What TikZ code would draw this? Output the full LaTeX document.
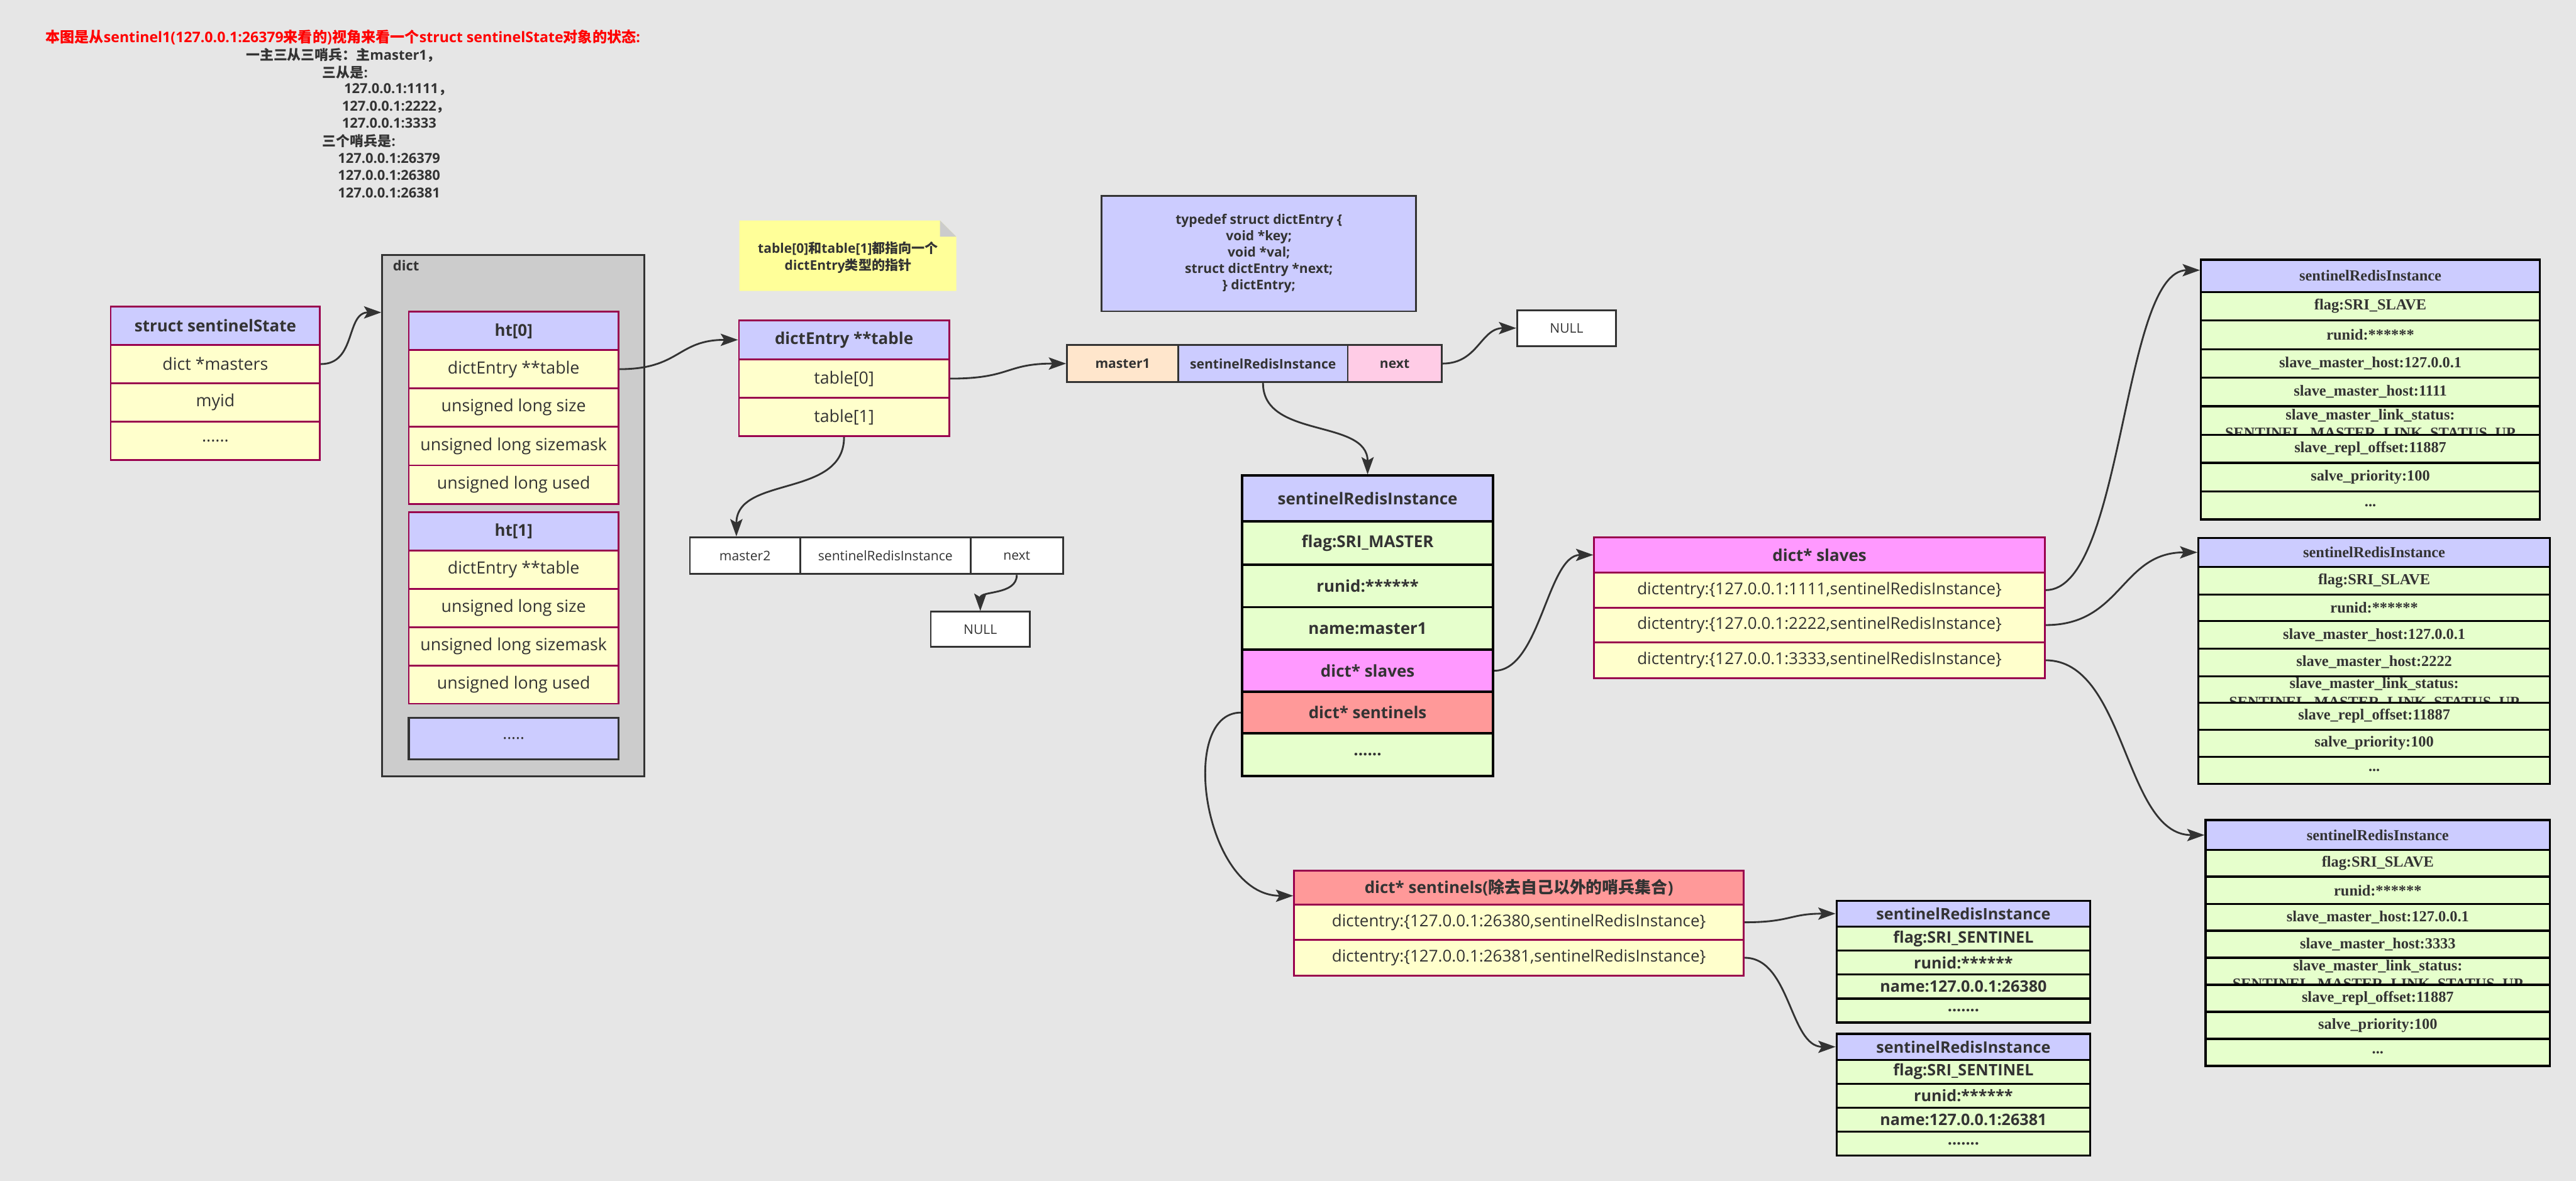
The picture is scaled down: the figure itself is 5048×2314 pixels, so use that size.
\documentclass[tikz,border=0pt]{standalone}
\usepackage{fontspec}
\setmainfont{Open Sans}
\newfontfamily\cjk{Noto Sans CJK SC}
\newfontfamily\serifb{Liberation Serif}
\usetikzlibrary{arrows.meta}
\definecolor{bg}{HTML}{E6E6E6}
\definecolor{lav}{HTML}{CCCCFF}
\definecolor{yel}{HTML}{FFFFCC}
\definecolor{mag}{HTML}{99004D}
\definecolor{dk}{HTML}{333333}
\definecolor{grn}{HTML}{E6FFCC}
\definecolor{pnk}{HTML}{FF99FF}
\definecolor{sal}{HTML}{FF9999}
\definecolor{peach}{HTML}{FFE6CC}
\definecolor{rose}{HTML}{FFCCE6}
\definecolor{gry}{HTML}{CCCCCC}
\definecolor{notey}{HTML}{FFFF99}
\newcommand\zh[1]{{\cjk #1}}
\newcommand\fs[1]{\fontsize{#1}{#1}\selectfont}
\begin{document}
\begin{tikzpicture}[x=1pt,y=-1pt,
  wh/.style 2 args={minimum width=#1pt,minimum height=#2pt},
  cell/.style={rectangle,inner sep=0pt,line width=3.5pt,text=dk,anchor=center},
  mrow/.style={cell,draw=mag,fill=yel,font=\fs{33}},
  mhead/.style={cell,draw=mag,fill=lav,font=\fs{32}\bfseries},
  irow/.style={cell,draw=black,fill=grn,line width=4.5pt,font=\fs{32}\bfseries},
  srow/.style={cell,draw=black,fill=grn,line width=4pt,font=\fs{31}\bfseries},
  vrow/.style={cell,draw=black,fill=grn,line width=4pt,font=\serifb\fs{30}\bfseries},
  lrow/.style={cell,draw=dk,fill=white,font=\fs{26}},
  txtl/.style={anchor=base west,inner sep=0pt,text=dk,font=\fs{27}\bfseries},
  arr/.style={draw=dk,line width=3.5pt,-{Stealth[length=34pt,width=24pt,inset=7pt]}}
]
\fill[bg] (0,0) rectangle (5048,2314);
\useasboundingbox (0,0) rectangle (5048,2314);

% title and notes text
\node[anchor=base west,inner sep=0pt,text=red,font=\fs{28.5}\bfseries] (title) at (89,83)
  {\zh{本图是从}sentinel1(127.0.0.1:26379\zh{来看的})\zh{视角来看一个}struct sentinelState\zh{对象的状态}:};
\node[txtl] (t1) at (482,118) {\zh{一主三从三哨兵：主}master1\zh{，}};
\node[txtl] (t2) at (632,152) {\zh{三从是}:};
\node[txtl] (t3) at (674,183) {127.0.0.1:1111\zh{，}};
\node[txtl] (t4) at (670,217) {127.0.0.1:2222\zh{，}};
\node[txtl] (t5) at (670,251) {127.0.0.1:3333};
\node[txtl] (t6) at (632,287) {\zh{三个哨兵是}:};
\node[txtl] (t7) at (662,320) {127.0.0.1:26379};
\node[txtl] (t8) at (662,353) {127.0.0.1:26380};
\node[txtl] (t9) at (662,387) {127.0.0.1:26381};

% struct sentinelState
\node[mhead,wh={410}{75}] (ssH) at (422,638.5) {struct sentinelState};
\node[mrow,wh={410}{75}] (ssM) at (422,713.5) {dict *masters};
\node[mrow,wh={410}{75}] (ssI) at (422,788.5) {myid};
\node[mrow,wh={410}{76}] (ssD) at (422,864) {......};

% dict container
\node[cell,draw=dk,fill=gry,wh={514}{1021}] (dictbox) at (1006,1010.5) {};
\node[anchor=base west,inner sep=0pt,text=dk,font=\fs{27}\bfseries] (dictlbl) at (770,530) {dict};
\node[mhead,wh={411}{75}] (h0H) at (1006.5,648.5) {ht[0]};
\node[mrow,wh={411}{75}] (h0a) at (1006.5,723.5) {dictEntry **table};
\node[mrow,wh={411}{75}] (h0b) at (1006.5,798.5) {unsigned long size};
\node[mrow,wh={411}{76}] (h0c) at (1006.5,874) {unsigned long sizemask};
\node[mrow,wh={411}{76}] (h0d) at (1006.5,950) {unsigned long used};
\node[mhead,wh={411}{75}] (h1H) at (1006.5,1041.5) {ht[1]};
\node[mrow,wh={411}{75}] (h1a) at (1006.5,1116.5) {dictEntry **table};
\node[mrow,wh={411}{75}] (h1b) at (1006.5,1191.5) {unsigned long size};
\node[mrow,wh={411}{75}] (h1c) at (1006.5,1266.5) {unsigned long sizemask};
\node[mrow,wh={411}{75}] (h1d) at (1006.5,1341.5) {unsigned long used};
\node[cell,draw=dk,fill=lav,line width=4.5pt,wh={411}{81},font=\fs{32}] (htdots) at (1006.5,1447.5) {.....};

% note
\fill[notey] (1449,432) -- (1842,432) -- (1874,464) -- (1874,570) -- (1449,570) -- cycle;
\fill[gry] (1842,432) -- (1842,464) -- (1874,464) -- cycle;
\node[align=center,inner sep=0pt,text=dk,font={\fontsize{26}{33}\selectfont\bfseries}] (note) at (1662,505)
  {table[0]\zh{和}table[1]\zh{都指向一个}\\dictEntry\zh{类型的指针}};

% dictEntry **table
\node[mhead,wh={412}{76}] (deH) at (1654,666) {dictEntry **table};
\node[mrow,wh={412}{76}] (de0) at (1654,742) {table[0]};
\node[mrow,wh={412}{75}] (de1) at (1654,817.5) {table[1]};

% typedef
\node[cell,draw=dk,fill=lav,wh={616}{226},align=center,font={\fontsize{26}{32}\selectfont\bfseries}] (td) at (2467,497)
  {typedef struct dictEntry \{\\void *key;\\void *val;\\struct dictEntry *next;\\\} dictEntry;};

% master1 entry
\node[cell,draw=dk,fill=peach,wh={218}{73},font=\fs{26}\bfseries] (m1a) at (2200,712.5) {master1};
\node[cell,draw=dk,fill=lav,wh={332}{73},font=\fs{26}\bfseries] (m1b) at (2475,712.5) {sentinelRedisInstance};
\node[cell,draw=dk,fill=rose,wh={184}{73},font=\fs{26}\bfseries] (m1c) at (2733,712.5) {next};
\node[lrow,wh={194}{70}] (null1) at (3070,643) {NULL};

% master2 entry
\node[lrow,wh={216}{72}] (m2a) at (1460,1089) {master2};
\node[lrow,wh={334}{72}] (m2b) at (1735,1089) {sentinelRedisInstance};
\node[lrow,wh={181}{72}] (m2c) at (1992.5,1089) {next};
\node[lrow,wh={194}{69}] (null2) at (1921,1233.5) {NULL};

% master instance
\node[irow,fill=lav,wh={492}{90}] (miH) at (2680,977) {sentinelRedisInstance};
\node[irow,wh={492}{85}] (miF) at (2680,1064.5) {flag:SRI\_MASTER};
\node[irow,wh={492}{83}] (miR) at (2680,1148.5) {runid:******};
\node[irow,wh={492}{83}] (miN) at (2680,1231.5) {name:master1};
\node[irow,fill=pnk,wh={492}{83}] (miS) at (2680,1314.5) {dict* slaves};
\node[irow,fill=sal,wh={492}{81}] (miT) at (2680,1396.5) {dict* sentinels};
\node[irow,wh={492}{84}] (miD) at (2680,1479) {......};

% slaves dict
\node[mhead,fill=pnk,wh={883}{69}] (slH) at (3565.5,1087.5) {dict* slaves};
\node[mrow,font=\fs{32},wh={883}{69}] (sl1) at (3565.5,1156.5) {dictentry:\{127.0.0.1:1111,sentinelRedisInstance\}};
\node[mrow,font=\fs{32},wh={883}{68}] (sl2) at (3565.5,1225) {dictentry:\{127.0.0.1:2222,sentinelRedisInstance\}};
\node[mrow,font=\fs{32},wh={883}{70}] (sl3) at (3565.5,1294) {dictentry:\{127.0.0.1:3333,sentinelRedisInstance\}};

% sentinels dict
\node[mhead,fill=sal,wh={881}{67}] (snH) at (2976.5,1739.5) {dict* sentinels(\zh{除去自己以外的哨兵集合})};
\node[mrow,font=\fs{32},wh={881}{69}] (sn1) at (2976.5,1807.5) {dictentry:\{127.0.0.1:26380,sentinelRedisInstance\}};
\node[mrow,font=\fs{32},wh={881}{70}] (sn2) at (2976.5,1877) {dictentry:\{127.0.0.1:26381,sentinelRedisInstance\}};

% sentinel instances
\node[srow,fill=lav,wh={497}{51}] (s1H) at (3847.5,1790.5) {sentinelRedisInstance};
\node[srow,wh={497}{47}] (s1F) at (3847.5,1839.5) {flag:SRI\_SENTINEL};
\node[srow,wh={497}{47}] (s1R) at (3847.5,1886.5) {runid:******};
\node[srow,wh={497}{47}] (s1N) at (3847.5,1933.5) {name:127.0.0.1:26380};
\node[srow,wh={497}{47}] (s1D) at (3847.5,1980.5) {.......};
\node[srow,fill=lav,wh={497}{51}] (s2H) at (3847.5,2051.5) {sentinelRedisInstance};
\node[srow,wh={497}{47}] (s2F) at (3847.5,2100.5) {flag:SRI\_SENTINEL};
\node[srow,wh={497}{47}] (s2R) at (3847.5,2147.5) {runid:******};
\node[srow,wh={497}{47}] (s2N) at (3847.5,2194.5) {name:127.0.0.1:26381};
\node[srow,wh={497}{47}] (s2D) at (3847.5,2241.5) {.......};

% slave instance 1
\node[vrow,fill=lav,wh={664}{63}] (v1H) at (4645,540.5) {sentinelRedisInstance};
\node[vrow,wh={664}{56}] (v1F) at (4645,600) {flag:SRI\_SLAVE};
\node[vrow,wh={664}{57}] (v1R) at (4645,656.5) {runid:******};
\node[vrow,wh={664}{55}] (v1A) at (4645,712.5) {slave\_master\_host:127.0.0.1};
\node[vrow,wh={664}{56}] (v1P) at (4645,768) {slave\_master\_host:1111};
\node[vrow,wh={664}{56}] (v1L) at (4645,824) {};
\node[align=center,inner sep=0pt,text=dk,yshift=-8pt,font={\serifb\fontsize{30}{36}\selectfont\bfseries}] (v1Lt) at (4645,824)
  {slave\_master\_link\_status:\\SENTINEL\_MASTER\_LINK\_STATUS\_UP};
\node[vrow,wh={664}{55}] (v1O) at (4645,879.5) {slave\_repl\_offset:11887};
\node[vrow,wh={664}{56}] (v1Y) at (4645,935) {salve\_priority:100};
\node[vrow,wh={664}{55}] (v1D) at (4645,990.5) {...};

% slave instance 2
\node[vrow,fill=lav,wh={689}{57}] (v2H) at (4652.5,1082.5) {sentinelRedisInstance};
\node[vrow,wh={689}{54}] (v2F) at (4652.5,1138) {flag:SRI\_SLAVE};
\node[vrow,wh={689}{52}] (v2R) at (4652.5,1191) {runid:******};
\node[vrow,wh={689}{54}] (v2A) at (4652.5,1244) {slave\_master\_host:127.0.0.1};
\node[vrow,wh={689}{54}] (v2P) at (4652.5,1298) {slave\_master\_host:2222};
\node[vrow,wh={689}{52}] (v2L) at (4652.5,1351) {};
\node[align=center,inner sep=0pt,text=dk,yshift=-8pt,font={\serifb\fontsize{30}{36}\selectfont\bfseries}] (v2Lt) at (4652.5,1351)
  {slave\_master\_link\_status:\\SENTINEL\_MASTER\_LINK\_STATUS\_UP};
\node[vrow,wh={689}{53}] (v2O) at (4652.5,1403.5) {slave\_repl\_offset:11887};
\node[vrow,wh={689}{53}] (v2Y) at (4652.5,1456.5) {salve\_priority:100};
\node[vrow,wh={689}{53}] (v2D) at (4652.5,1509.5) {...};

% slave instance 3
\node[vrow,fill=lav,wh={675}{59}] (v3H) at (4659.5,1636.5) {sentinelRedisInstance};
\node[vrow,wh={675}{52}] (v3F) at (4659.5,1692) {flag:SRI\_SLAVE};
\node[vrow,wh={675}{54}] (v3R) at (4659.5,1745) {runid:******};
\node[vrow,wh={675}{52}] (v3A) at (4659.5,1798) {slave\_master\_host:127.0.0.1};
\node[vrow,wh={675}{53}] (v3P) at (4659.5,1850.5) {slave\_master\_host:3333};
\node[vrow,wh={675}{53}] (v3L) at (4659.5,1903.5) {};
\node[align=center,inner sep=0pt,text=dk,yshift=-8pt,font={\serifb\fontsize{30}{36}\selectfont\bfseries}] (v3Lt) at (4659.5,1903.5)
  {slave\_master\_link\_status:\\SENTINEL\_MASTER\_LINK\_STATUS\_UP};
\node[vrow,wh={675}{53}] (v3O) at (4659.5,1956.5) {slave\_repl\_offset:11887};
\node[vrow,wh={675}{53}] (v3Y) at (4659.5,2009.5) {salve\_priority:100};
\node[vrow,wh={675}{53}] (v3D) at (4659.5,2062.5) {...};

% connectors
\draw[arr] (ssM.east) .. controls +(70,0) and +(-70,0) .. ([yshift=-114pt]dictbox.north west);
\draw[arr] (h0a.east) .. controls +(120,0) and +(-120,0) .. (deH.west);
\draw[arr] (de0.east) .. controls +(120,0) and +(-120,0) .. (m1a.west);
\draw[arr] (de1.south) .. controls +(0,120) and +(0,-120) .. ([xshift=-17pt]m2a.north);
\draw[arr] (m2c.south) .. controls +(0,40) and +(0,-40) .. (null2.north);
\draw[arr] (m1c.east) .. controls +(70,0) and +(-70,0) .. (null1.west);
\draw[arr] (m1b.south) .. controls +(0,110) and +(0,-110) .. (miH.north);
\draw[arr] (miS.east) .. controls +(90,0) and +(-90,0) .. (slH.west);
\draw[arr] (miT.west) .. controls +(-125,0) and +(-175,0) .. ([yshift=-16pt]snH.west);
\draw[arr] (sl1.east) .. controls +(153,0) and +(-153,0) .. ([yshift=11pt]v1H.west);
\draw[arr] (sl2.east) .. controls +(150,0) and +(-150,0) .. (v2H.west);
\draw[arr] (sl3.east) .. controls +(158,0) and +(-158,0) .. (v3H.west);
\draw[arr] (sn1.east) .. controls +(90,0) and +(-90,0) .. (s1H.west);
\draw[arr] (sn2.east) .. controls +(90,0) and +(-90,0) .. (s2H.west);
\end{tikzpicture}
\end{document}
